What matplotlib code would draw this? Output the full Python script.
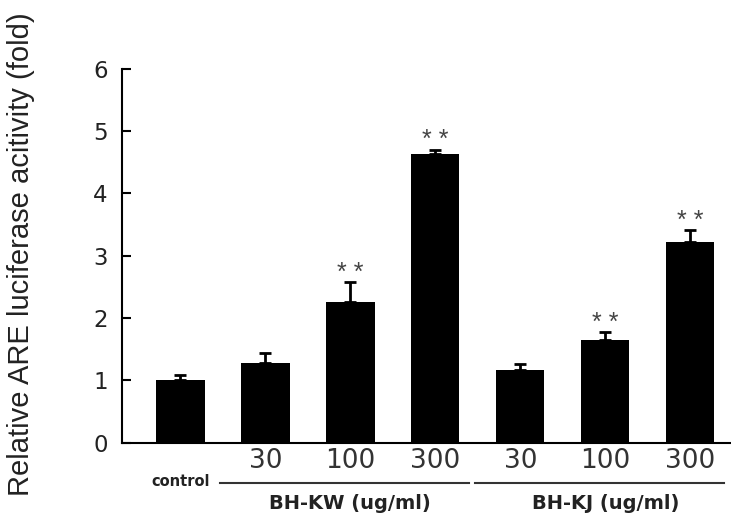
import numpy as np
import matplotlib
matplotlib.use("Agg")
import matplotlib.pyplot as plt
import matplotlib.transforms as mtransforms

# values
labels = ["control", "30", "100", "300", "30", "100", "300"]
means = [1.00, 1.28, 2.26, 4.63, 1.17, 1.65, 3.22]
errs = [0.08, 0.16, 0.32, 0.07, 0.10, 0.12, 0.19]
signif = ["", "", "**", "**", "", "**", "**"]
groups = ["BH-KW (ug/ml)", "BH-KJ (ug/ml)"]
group_idx = [[1, 2, 3], [4, 5, 6]]

x = np.arange(len(means))

fig = plt.figure(figsize=(7.31, 5.17), dpi=100)
ax = fig.add_axes([0.1665, 0.1437, 0.8335, 0.7238])

ax.bar(x, means, width=0.57, color="black", zorder=2)
ax.errorbar(x, means, yerr=[np.zeros(len(errs)), errs], fmt="none",
            ecolor="black", elinewidth=2, capsize=4, capthick=2, zorder=1)

for xi, m, e, s in zip(x, means, errs, signif):
    if s:
        ax.annotate("* *", (xi, m + e), xytext=(0, 1.5), textcoords="offset points",
                    ha="center", va="baseline", fontsize=18, color="#444444",
                    family="Liberation Sans")

ax.set_xlim(-0.69, 6.48)
ax.set_ylim(0, 6)
ax.set_yticks(range(7))
ax.tick_params(axis="y", direction="in", length=6.5, width=1.5, pad=10,
               labelsize=16.5, labelcolor="#222222")
for lab in ax.get_yticklabels():
    lab.set_family("DejaVu Sans")
ax.set_xticks([])
for side in ["top", "right"]:
    ax.spines[side].set_visible(False)
ax.spines["left"].set_linewidth(1.5)
ax.spines["bottom"].set_linewidth(1.5)

ax.set_ylabel("Relative ARE luciferase acitivity (fold)", fontsize=21,
              family="Liberation Sans", color="#222222")
ax.yaxis.set_label_coords(-0.142, 0.505)

# labels under the bars
trans = mtransforms.blended_transform_factory(ax.transData, fig.transFigure)
ax.text(x[0], 0.068, labels[0], transform=trans, ha="center", va="center",
        fontsize=10.5, fontweight="bold", color="#222222", family="DejaVu Sans")
for xi, lab in zip(x[1:], labels[1:]):
    ax.text(xi, 0.108, lab, transform=trans, ha="center", va="center",
            fontsize=19, color="#333333", family="DejaVu Sans")

for name, idx in zip(groups, group_idx):
    x0 = x[idx[0]] - 0.53
    x1 = x[idx[-1]] + 0.40
    line = plt.Line2D([x0, x1], [0.066, 0.066], transform=trans,
                      color="#333333", lw=1.5, clip_on=False)
    ax.add_line(line)
    ax.text(x[idx[1]], 0.027, name, transform=trans, ha="center", va="center",
            fontsize=14, fontweight="bold", color="#222222", family="DejaVu Sans")

fig.savefig("out.png", dpi=100)
